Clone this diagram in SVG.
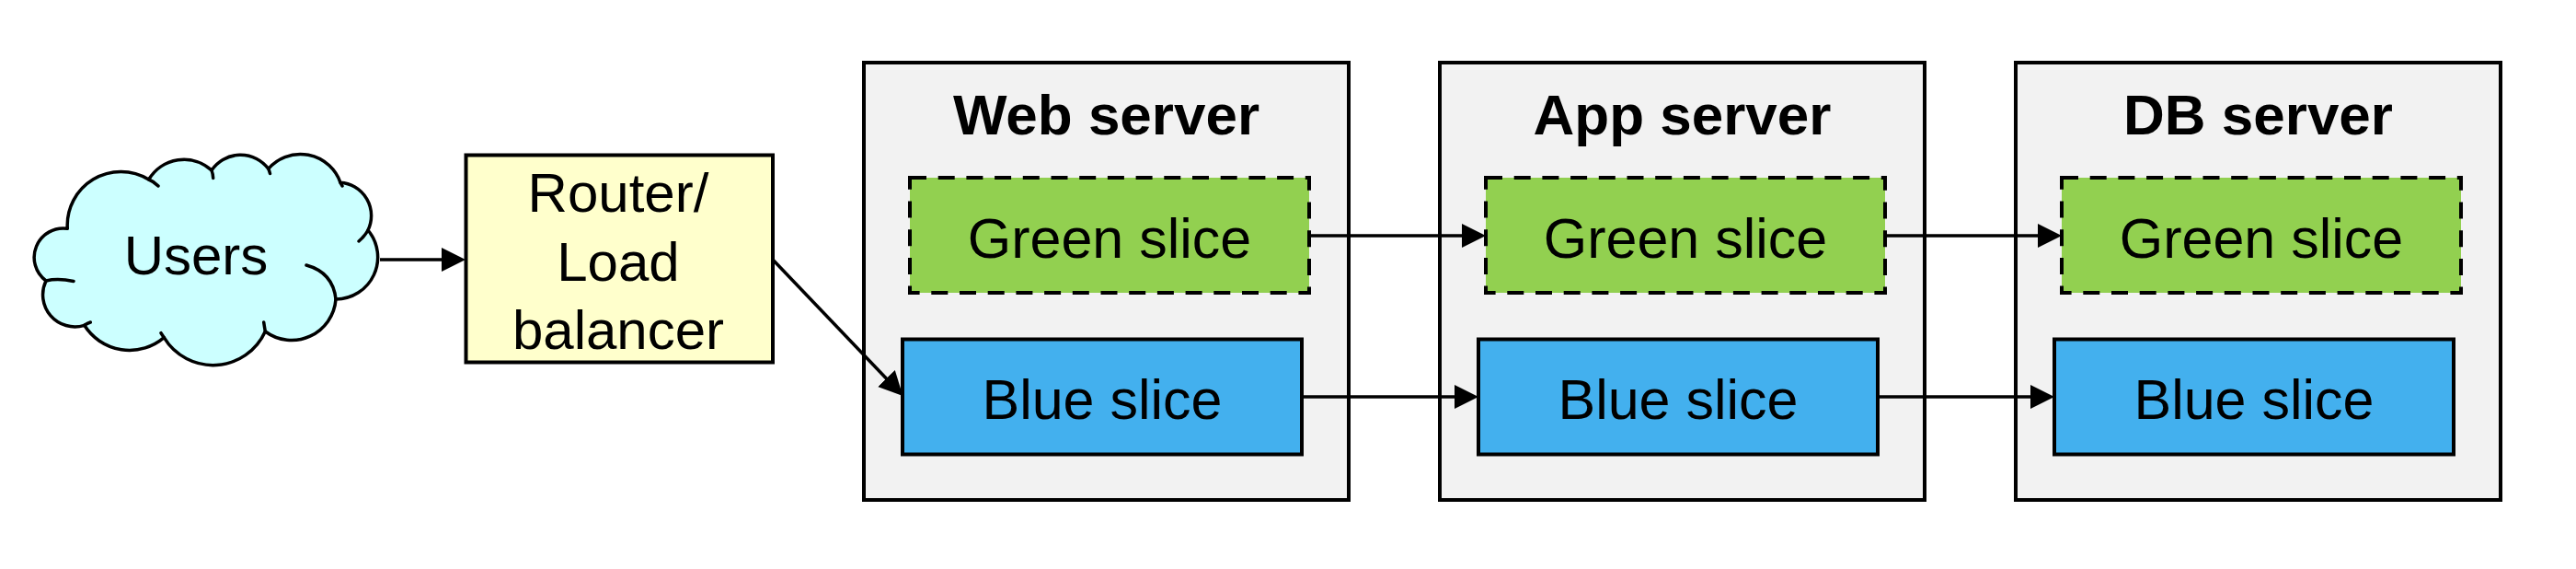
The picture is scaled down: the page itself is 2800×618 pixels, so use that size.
<svg xmlns="http://www.w3.org/2000/svg" width="2800" height="618" viewBox="0 0 2800 618">
<defs>
<style>
text{font-family:"Liberation Sans",Arial,Helvetica,sans-serif;fill:#000;text-anchor:middle}
.lbl{font-size:60px}
.sl{font-size:61px}
.ttl{font-size:62px;font-weight:bold}
.srv{fill:#F2F2F2;stroke:#000;stroke-width:4}
.green{fill:#92D050;stroke:#000;stroke-width:4;stroke-dasharray:18 12.7}
.blue{fill:#43B0EE;stroke:#000;stroke-width:4}
.cloud{fill:#CCFFFF;stroke:#000;stroke-width:3.5;stroke-linejoin:round}
.tick{fill:none;stroke:#000;stroke-width:3.5;stroke-linecap:round}
.conn line{stroke:#000;stroke-width:3.5;marker-end:url(#arrow)}
</style>
<marker id="arrow" markerUnits="userSpaceOnUse" markerWidth="26" markerHeight="26" refX="22" refY="13" orient="auto">
<path d="M0,0 L26,13 L0,26 z" fill="#000"/>
</marker>
</defs>
<rect width="2800" height="618" fill="#fff"/>

<g id="users">
<path class="cloud" d="M73.3,248.3 A58.2,58.2 0 0 1 161.7,195 A44.5,44.5 0 0 1 230,185 A37.9,37.9 0 0 1 291.7,183.3 A46.1,46.1 0 0 1 370,198.3 A36.1,36.1 0 0 1 400,250 A45.7,45.7 0 0 1 365,325 A48.1,48.1 0 0 1 288.3,360 A62.3,62.3 0 0 1 178.3,366.7 A58,58 0 0 1 91.7,353.3 A34.8,34.8 0 0 1 50,305 A31.6,31.6 0 0 1 73.3,248.3 Z"/>
<path class="tick" d="M50,305 Q63,302 80,305.5 M161.7,195 Q167,197 172,202 M230,185 Q231.5,189 231.7,193.5 M291.7,183.3 Q293,186 293.5,188.5 M370,198.3 L372,202 M400,250 Q396,257 390,262 M365,325 Q362,296 333,288 M288.3,360 Q287.3,354 286.7,350 M178.3,366.7 L175,361.7 M91.7,353.3 Q95,351 98.3,350"/>
<text class="lbl" x="213" y="298">Users</text>
</g>

<g id="router">
<rect x="506.5" y="168.5" width="333.5" height="225" fill="#FFFFCC" stroke="#000" stroke-width="4"/>
<text class="lbl" x="672" y="230">Router/</text>
<text class="lbl" x="672" y="305">Load</text>
<text class="lbl" x="672" y="378.5">balancer</text>
</g>

<g id="web-server">
<rect class="srv" x="939" y="68" width="527" height="475"/>
<text class="ttl" x="1202.5" y="145.5">Web server</text>
</g>
<g id="web-green">
<rect class="green" x="989" y="193" width="434" height="125"/>
<text class="sl" x="1206" y="280">Green slice</text>
</g>
<g id="web-blue">
<rect class="blue" x="981" y="368.5" width="434" height="125"/>
<text class="sl" x="1198" y="455">Blue slice</text>
</g>

<g id="app-server">
<rect class="srv" x="1565" y="68" width="527" height="475"/>
<text class="ttl" x="1828.5" y="145.5">App server</text>
</g>
<g id="app-green">
<rect class="green" x="1615" y="193" width="434" height="125"/>
<text class="sl" x="1832" y="280">Green slice</text>
</g>
<g id="app-blue">
<rect class="blue" x="1607" y="368.5" width="434" height="125"/>
<text class="sl" x="1824" y="455">Blue slice</text>
</g>

<g id="db-server">
<rect class="srv" x="2191" y="68" width="527" height="475"/>
<text class="ttl" x="2454.5" y="145.5">DB server</text>
</g>
<g id="db-green">
<rect class="green" x="2241" y="193" width="434" height="125"/>
<text class="sl" x="2458" y="280">Green slice</text>
</g>
<g id="db-blue">
<rect class="blue" x="2233" y="368.5" width="434" height="125"/>
<text class="sl" x="2450" y="455">Blue slice</text>
</g>

<g id="connectors" class="conn">
<line x1="413" y1="282" x2="502" y2="282"/>
<line x1="840" y1="282" x2="978.6" y2="427"/>
<line x1="1423" y1="256" x2="1611" y2="256"/>
<line x1="1415" y1="431" x2="1603" y2="431"/>
<line x1="2049" y1="256" x2="2237" y2="256"/>
<line x1="2041" y1="431" x2="2229" y2="431"/>
</g>
</svg>
